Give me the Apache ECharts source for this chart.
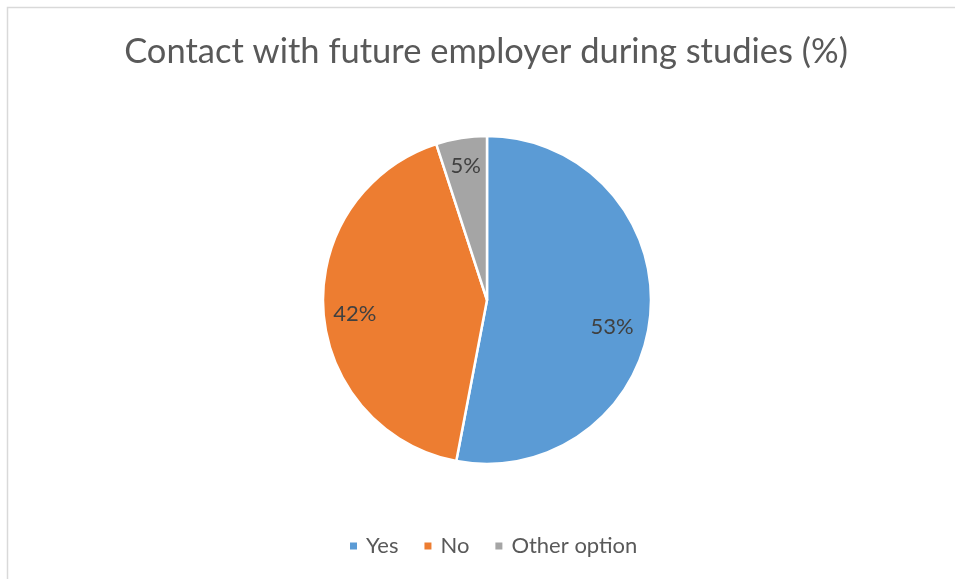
<!DOCTYPE html>
<html>
<head>
<meta charset="utf-8">
<style>
  html, body { margin: 0; padding: 0; background: #ffffff; }
  #chart { width: 955px; height: 579px; }
</style>
<script src="https://cdn.jsdelivr.net/npm/echarts@6/dist/echarts.min.js"></script>
</head>
<body>
<div id="chart"></div>
<script>
// Survey answers: contact with a future employer during studies
const categories = ['Yes', 'No', 'Other option'];
const shares = [53, 42, 5];
const colors = ['#5B9BD5', '#ED7D31', '#A5A5A5'];

const CX = 487, CY = 300, R = 164;
// percentage label placement: distance out (fraction of radius) and
// angular nudge (degrees) away from each slice's middle
const labelReach = [0.78, 0.81, 0.83];
const labelNudge = [6.8, -2.3, 0];

const total = shares.reduce((a, b) => a + b, 0);
const midAngles = [];
let acc = 0;
shares.forEach(v => {
  midAngles.push((acc + v / 2) / total * Math.PI * 2);
  acc += v;
});

const chart = echarts.init(document.getElementById('chart'), null, { renderer: 'canvas' });
const FONT = 'Lato, "Open Sans", sans-serif';

chart.setOption({
  animation: false,
  backgroundColor: '#ffffff',
  graphic: [{
    type: 'rect',
    shape: { x: 7.5, y: 7.5, width: 1000, height: 700 },
    style: { fill: 'none', stroke: '#d9d9d9', lineWidth: 1.5 },
    silent: true,
    z: 0
  }],
  title: {
    text: 'Contact with future employer during studies (%)',
    left: CX - 1,
    textAlign: 'center',
    top: 34,
    padding: 0,
    textStyle: { fontFamily: FONT, fontSize: 34.5, fontWeight: 'normal', color: '#595959' }
  },
  legend: {
    bottom: 17,
    left: 343,
    itemWidth: 9,
    itemHeight: 9,
    itemGap: 24,
    icon: 'rect',
    textStyle: { fontFamily: FONT, fontSize: 22, color: '#595959', padding: [0, 0, 0, 3] },
    data: categories
  },
  series: [{
    type: 'pie',
    center: [CX, CY],
    radius: [0, R],
    startAngle: 90,
    clockwise: true,
    silent: true,
    itemStyle: { borderColor: '#ffffff', borderWidth: 2.5 },
    label: {
      show: true,
      position: 'inside',
      formatter: p => p.value + '%',
      fontFamily: FONT,
      fontSize: 22,
      color: '#404040'
    },
    labelLine: { show: false },
    labelLayout: function (params) {
      const i = params.dataIndex;
      const a = midAngles[i] + labelNudge[i] * Math.PI / 180;
      const d = R * labelReach[i];
      return {
        x: CX + Math.sin(a) * d,
        y: CY - Math.cos(a) * d,
        align: 'center',
        verticalAlign: 'middle'
      };
    },
    data: categories.map((name, i) => ({
      name: name,
      value: shares[i],
      itemStyle: { color: colors[i] }
    }))
  }]
});
</script>
</body>
</html>
